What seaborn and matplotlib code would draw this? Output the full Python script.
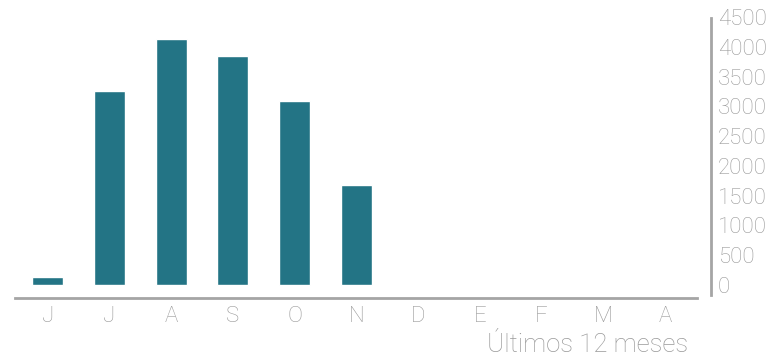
import matplotlib
matplotlib.use("Agg")
import matplotlib.pyplot as plt
from matplotlib.transforms import ScaledTranslation
import seaborn as sns
import pandas as pd

months = ["J", "J", "A", "S", "O", "N", "D", "E", "F", "M", "A"]
values = [140, 3250, 4130, 3840, 3090, 1680, 0, 0, 0, 0, 0]
yticks = [0, 500, 1000, 1500, 2000, 2500, 3000, 3500, 4000, 4500]
xlabel = "Últimos 12 meses"

sns.set_style("white")
plt.rcParams["font.family"] = ["Roboto", "DejaVu Sans"]
plt.rcParams["font.weight"] = "light"

bar_color = "#237485"
grey_text = "#999999"
grey_line = "#a5a5a5"

df = pd.DataFrame({"pos": list(range(len(months))), "value": values})

W, H = 771, 357
fig = plt.figure(figsize=(W / 100, H / 100), dpi=100)
ax = fig.add_axes([15 / W, (H - 297.7) / H, (697 - 15) / W, (297.7 - 17) / H])

sns.barplot(data=df, x="pos", y="value", color=bar_color, width=0.5,
            saturation=1, ax=ax, native_scale=False)

ax.set_xlim(-0.53, 10.52)
ax.set_ylim(-213, 4500)

ax.set_xticks(range(len(months)))
ax.set_xticklabels(months)
ax.set_yticks(yticks)
ax.set_yticklabels([str(v) for v in yticks])

ax.yaxis.tick_right()
ax.tick_params(axis="y", length=0, pad=5.0, labelsize=16, labelcolor=grey_text)
ax.tick_params(axis="x", length=0, pad=6, labelsize=16, labelcolor=grey_text)
for lab in ax.get_yticklabels():
    lab.set_transform(lab.get_transform() + ScaledTranslation(0, -5 / 100, fig.dpi_scale_trans))

for s in ["top", "left"]:
    ax.spines[s].set_visible(False)
ax.spines["bottom"].set_color(grey_line)
ax.spines["bottom"].set_linewidth(2)
ax.spines["right"].set_color(grey_line)
ax.spines["right"].set_linewidth(2)
ax.spines["right"].set_position(("outward", 10))
ax.spines["right"].set_bounds(-168, 4483)

ax.set_ylabel("")
ax.set_xlabel("")
fig.text(688 / W, 1 - 345 / H, xlabel, ha="right", va="center",
         fontsize=18.5, color=grey_text)

fig.savefig("out.png", dpi=100, facecolor="white")
